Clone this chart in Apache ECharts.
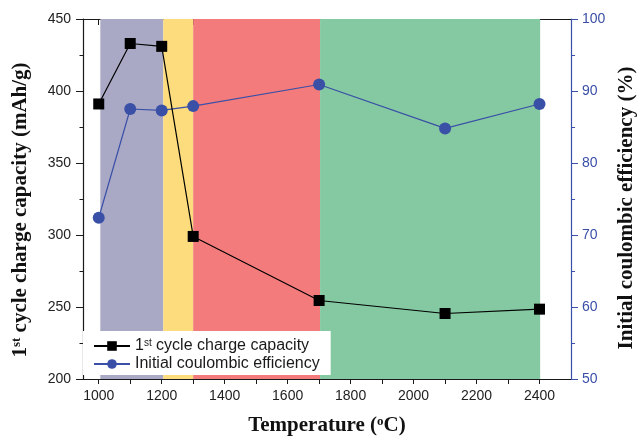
<!DOCTYPE html>
<html>
<head>
<meta charset="utf-8">
<script src="https://cdn.jsdelivr.net/npm/echarts@6/dist/echarts.min.js"></script>
<style>
  html, body { margin: 0; padding: 0; background: #fff; }
  #chart { width: 637px; height: 439px; }
</style>
</head>
<body>
<div id="chart"></div>
<script>
// Synthesis temperature (°C) for each sample
const temperatures = [1000, 1100, 1200, 1300, 1700, 2100, 2400];
// First-cycle charge capacity (mAh/g)
const chargeCapacity = [391, 433, 431, 299, 254.5, 245.5, 248.5];
// Initial coulombic efficiency (%)
const coulombicEfficiency = [72.4, 87.5, 87.3, 87.9, 90.9, 84.8, 88.2];

// Shaded temperature regimes: start, end and fill colour of each
const bandStarts = [1005, 1205, 1300, 1703];
const bandEnds = [1205, 1300, 1703, 2402];
const bandColors = ['#a9a9c6', '#fddc7e', '#f37b7c', '#85c9a3'];

// Axis ticks and labels
const xLabelValues = [1000, 1200, 1400, 1600, 1800, 2000, 2200, 2400];
const xTickValues = [1000, 1100, 1200, 1300, 1400, 1500, 1600, 1700, 1800, 1900, 2000, 2100, 2200, 2300, 2400];

const SANS = '"Liberation Sans", Arial, sans-serif';
const SERIF = '"Liberation Serif", "Times New Roman", serif';
const AXIS_COLOR = '#1a1a1a';
const BLUE = '#3a4fa6';

const capacityName = '1st cycle charge capacity';
const efficiencyName = 'Initial coulombic efficiency';

const pair = (xs, ys) => xs.map((x, i) => [x, ys[i]]);
const plain = v => String(v);

const chart = echarts.init(document.getElementById('chart'), null, { renderer: 'canvas' });

const option = {
  animation: false,
  backgroundColor: '#ffffff',
  grid: { left: 83, right: 66, top: 19, bottom: 60, outerBoundsMode: 'none', containLabel: false },
  legend: {
    data: [capacityName, efficiencyName],
    orient: 'vertical',
    left: 83,
    top: 331,
    padding: [7, 11, 3, 10],
    itemGap: 2,
    itemWidth: 36,
    itemHeight: 12,
    backgroundColor: '#ffffff',
    formatter: name => name === capacityName ? '1{sup|st} cycle charge capacity' : name,
    textStyle: {
      fontFamily: SANS,
      fontSize: 16,
      color: '#1a1a1a',
      rich: {
        sup: { fontFamily: SANS, fontSize: 10, verticalAlign: 'top', color: '#1a1a1a' }
      }
    }
  },
  xAxis: [
    {
      type: 'value',
      position: 'bottom',
      min: 950,
      max: 2500,
      name: 'Temperature ({sup|o}C)',
      nameLocation: 'middle',
      nameGap: 36,
      nameTextStyle: {
        fontFamily: SERIF, fontWeight: 'bold', fontSize: 21, color: '#111',
        rich: { sup: { fontFamily: SERIF, fontWeight: 'bold', fontSize: 13, verticalAlign: 'top', color: '#111' } }
      },
      splitLine: { show: false },
      axisLine: { show: true, lineStyle: { color: AXIS_COLOR, width: 1.2 } },
      axisTick: { show: true, customValues: xTickValues, length: 5, lineStyle: { color: AXIS_COLOR } },
      axisLabel: { customValues: xLabelValues, formatter: plain, fontFamily: SANS, fontSize: 14, color: '#222', margin: 10 }
    },
    {
      type: 'value',
      position: 'top',
      min: 950,
      max: 2500,
      splitLine: { show: false },
      axisLine: { show: true, lineStyle: { color: AXIS_COLOR, width: 1.2 } },
      axisTick: { show: true, inside: true, customValues: xTickValues, length: 6, lineStyle: { color: AXIS_COLOR } },
      axisLabel: { show: false }
    }
  ],
  yAxis: [
    {
      type: 'value',
      position: 'left',
      min: 200,
      max: 450,
      interval: 50,
      name: '1{sup|st} cycle charge capacity (mAh/g)',
      nameLocation: 'middle',
      nameRotate: 90,
      nameGap: 52,
      nameTextStyle: {
        fontFamily: SERIF, fontWeight: 'bold', fontSize: 21, color: '#111',
        padding: [0, 22, 0, 0],
        rich: { sup: { fontFamily: SERIF, fontWeight: 'bold', fontSize: 13, verticalAlign: 'top', color: '#111' } }
      },
      splitLine: { show: false },
      axisLine: { show: true, lineStyle: { color: AXIS_COLOR, width: 1.2 } },
      axisTick: { show: true, length: 7, lineStyle: { color: AXIS_COLOR } },
      minorTick: { show: true, splitNumber: 2, length: 3.5, lineStyle: { color: AXIS_COLOR } },
      axisLabel: { formatter: plain, fontFamily: SANS, fontSize: 14, color: '#222', margin: 12 }
    },
    {
      type: 'value',
      position: 'right',
      min: 50,
      max: 100,
      interval: 10,
      name: 'Initial coulombic efficiency (%)',
      nameLocation: 'middle',
      nameRotate: 90,
      nameGap: 44,
      nameTextStyle: { fontFamily: SERIF, fontWeight: 'bold', fontSize: 21, color: '#111', padding: [0, 18, 0, 0] },
      splitLine: { show: false },
      axisLine: { show: true, lineStyle: { color: BLUE, width: 1.2 } },
      axisTick: { show: true, length: 7, lineStyle: { color: BLUE } },
      minorTick: { show: true, splitNumber: 2, length: 4, lineStyle: { color: BLUE } },
      axisLabel: { formatter: plain, fontFamily: SANS, fontSize: 14, color: BLUE, margin: 11 }
    }
  ],
  series: [
    {
      name: 'bands',
      type: 'line',
      xAxisIndex: 0,
      yAxisIndex: 0,
      data: [],
      z: 1,
      silent: true,
      markArea: {
        silent: true,
        data: bandStarts.map((s, i) => [
          { xAxis: s, itemStyle: { color: bandColors[i], opacity: 1 } },
          { xAxis: bandEnds[i] }
        ])
      }
    },
    {
      name: efficiencyName,
      type: 'line',
      xAxisIndex: 0,
      yAxisIndex: 1,
      data: pair(temperatures, coulombicEfficiency),
      symbol: 'circle',
      symbolSize: 12,
      z: 3,
      lineStyle: { color: BLUE, width: 1.2 },
      itemStyle: { color: BLUE }
    },
    {
      name: capacityName,
      type: 'line',
      xAxisIndex: 0,
      yAxisIndex: 0,
      data: pair(temperatures, chargeCapacity),
      symbol: 'rect',
      symbolSize: 11,
      z: 4,
      lineStyle: { color: '#000', width: 1.2 },
      itemStyle: { color: '#000' }
    }
  ]
};

chart.setOption(option);
</script>
</body>
</html>
